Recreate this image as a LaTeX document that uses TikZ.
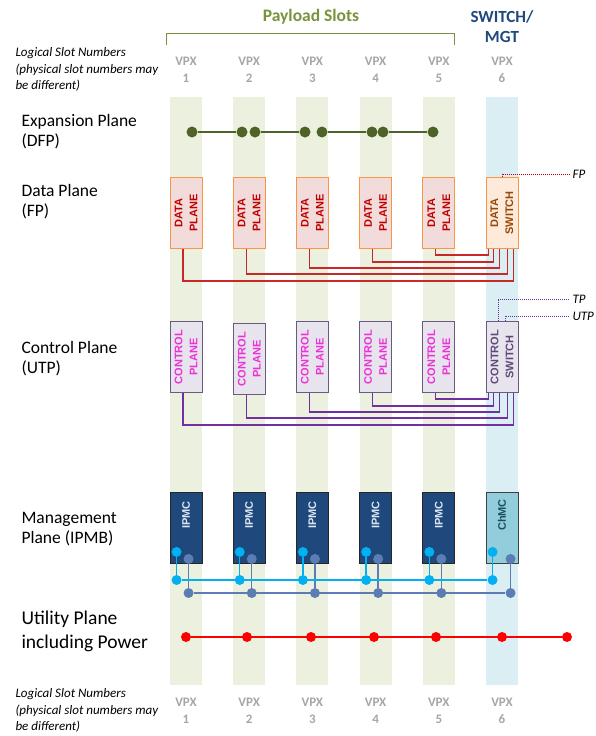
\documentclass[tikz,border=0pt]{standalone}
\usepackage{fontspec}
\setmainfont{Carlito}
\newfontfamily\arialfont{Liberation Sans}
\usetikzlibrary{positioning}

\definecolor{slotgreen}{HTML}{EBF1DE}
\definecolor{slotblue}{HTML}{DAEEF3}
\definecolor{headgreen}{HTML}{77933C}
\definecolor{headblue}{HTML}{1F497D}
\definecolor{vpxgray}{HTML}{A6A6A6}
\definecolor{dfpgreen}{HTML}{4F6228}
\definecolor{dataedge}{HTML}{F79646}
\definecolor{datafill}{HTML}{F2DCDB}
\definecolor{switchfill}{HTML}{FDEADA}
\definecolor{datatext}{HTML}{C00000}
\definecolor{switchtext}{HTML}{984806}
\definecolor{dataline}{RGB}{200,40,40}
\definecolor{ctrlfill}{HTML}{E8E4EE}
\definecolor{ctrledge}{HTML}{6B5A80}
\definecolor{ctrltext}{RGB}{235,50,215}
\definecolor{ctrlswtext}{HTML}{5F497A}
\definecolor{ctrlline}{HTML}{7030A0}
\definecolor{mgmtfill}{HTML}{1F497D}
\definecolor{mgmttext}{HTML}{DCE6F2}
\definecolor{chmcfill}{HTML}{92CDDC}
\definecolor{chmctext}{HTML}{1D4E5C}
\definecolor{ipmba}{HTML}{00B0F0}
\definecolor{ipmbb}{HTML}{5B7DB3}

\begin{document}
\begin{tikzpicture}[x=1pt,y=-1pt,
    strip/.style={fill=#1,minimum width=32pt,minimum height=588pt,inner sep=0pt},
    slotbox/.style={draw=#1,line width=0.9pt,minimum width=32pt,minimum height=71pt,inner sep=0pt},
    boxtext/.style={rotate=90,align=center,text=#1,font=\arialfont\bfseries\fontsize{11}{15}\selectfont},
    vpx/.style={align=center,text=vpxgray,font=\bfseries\fontsize{13}{17}\selectfont},
    plane/.style={anchor=west,align=left,font=\fontsize{17.5}{20}\selectfont},
    note/.style={anchor=north west,align=left,font=\itshape\fontsize{13}{16.5}\selectfont},
    tag/.style={anchor=west,font=\itshape\fontsize{13}{15}\selectfont},
    pin/.style={circle,fill=#1,inner sep=0pt,minimum size=11pt},
    dline/.style={dataline,line width=1.2pt},
    cline/.style={ctrlline,line width=1.2pt}]
  \useasboundingbox (0,0) rectangle (595,736);

  % slot columns
  \foreach \s [evaluate=\s as \cx using 186+63.2*(\s-1)] in {1,...,6}{
    \ifnum\s<6
      \node[strip=slotgreen] (col\s) at (\cx,391) {};
    \else
      \node[strip=slotblue] (col\s) at (\cx,391) {};
    \fi
    \node[vpx] (top\s) at (\cx,70) {VPX\\\s};
    \node[vpx] (bot\s) at (\cx,711) {VPX\\\s};
  }

  % headings
  \node[text=headgreen,font=\bfseries\fontsize{17.5}{20}\selectfont] (payload) at (311,17) {Payload Slots};
  \node[text=headblue,align=center,font=\bfseries\fontsize{17}{20}\selectfont] (mgt) at (502,27) {SWITCH/\\MGT};
  \draw[headgreen,line width=1pt] (166,45) -- (166,33) -- (454,33) -- (454,45);

  \node[note] (lsn) at (12,44) {Logical Slot Numbers\\(physical slot numbers may\\be different)};
  \node[note] (lsnb) at (12,685) {Logical Slot Numbers\\(physical slot numbers may\\be different)};

  \node[plane] (dfp) at (18,132) {Expansion Plane\\(DFP)};
  \node[plane] (fp) at (18,202) {Data Plane\\(FP)};
  \node[plane] (utp) at (18,359) {Control Plane\\(UTP)};
  \node[plane] (ipmb) at (18,529) {Management\\Plane (IPMB)};
  \node[plane,font=\fontsize{19.5}{24}\selectfont] (pwr) at (18,631) {Utility Plane\\including Power};

  % expansion plane
  \foreach \n/\x in {1/192,2/242,3/255,4/305,5/322,6/372,7/383,8/433}
    \node[pin=dfpgreen] (e\n) at (\x,132) {};
  \foreach \a/\b in {1/2,3/4,5/6,7/8}
    \draw[dfpgreen,line width=1.5pt] (e\a) -- (e\b);

  % data and control planes
  \foreach \s/\up [evaluate=\s as \cx using 186+63.2*(\s-1)] in {1/0,2/2,3/0,4/0,5/0}{
    \node[slotbox=dataedge,fill=datafill] (d\s) at (\cx,213) {};
    \node[boxtext=datatext] at (d\s) {DATA\\PLANE};
    \node[slotbox=ctrledge,fill=ctrlfill] (c\s) at (\cx,357+\up) {};
    \node[boxtext=ctrltext] at (c\s) {CONTROL\\PLANE};
    \node[slotbox=black!85,fill=mgmtfill] (m\s) at (\cx,528) {};
    \node[boxtext=mgmttext] at ([yshift=-23pt]m\s.north) {IPMC};
  }
  \node[slotbox=dataedge,fill=switchfill] (d6) at (502,213) {};
  \node[boxtext=switchtext] at (d6) {DATA\\SWITCH};
  \node[slotbox=ctrledge,fill=ctrlfill] (c6) at (502,357) {};
  \node[boxtext=ctrlswtext] at (c6) {CONTROL\\SWITCH};
  \node[slotbox=black!75,fill=chmcfill] (m6) at (502,528) {};
  \node[boxtext=chmctext] at ([yshift=-23pt]m6.north) {ChMC};

  \foreach \s/\dy/\dx in {1/32/28,2/25/22,3/19/14,4/13/8,5/6/3}{
    \draw[dline] ([xshift=-3pt]d\s.south) -- ++(0,\dy) -| ([xshift=\dx pt]d6.south west);
  }
  \foreach \s/\dy/\dx in {1/32/28,2/23/22,3/19/14,4/13/8,5/6/3}{
    \draw[cline] ([xshift=-3pt]c\s.south) -- ++(0,\dy) -| ([xshift=\dx pt]c6.south west);
  }

  \node[tag] (fptag) at (569,174) {FP};
  \node[tag] (tptag) at (569,299) {TP};
  \node[tag] (utptag) at (569,316) {UTP};
  \draw[datatext,densely dotted,line width=1pt] (d6.north) |- (fptag.west);
  \draw[ctrlline,densely dotted,line width=1pt] ([xshift=-4pt]c6.north) |- (tptag.west);
  \draw[ctrlline,densely dotted,line width=1pt] ([xshift=3pt]c6.north) |- (utptag.west);

  % management plane
  \coordinate (busa) at (0,580);
  \coordinate (busb) at (0,593);
  \foreach \s/\ob in {1/19,2/19,3/19,4/19,5/19,6/25}{
    \node[pin=ipmba,minimum size=10pt] (ia\s) at ([shift={(7pt,12pt)}]m\s.south west) {};
    \node[pin=ipmbb,minimum size=10pt] (ib\s) at ([shift={(\ob pt,5pt)}]m\s.south west) {};
    \node[pin=ipmba,minimum size=10pt] (ja\s) at (ia\s |- busa) {};
    \node[pin=ipmbb,minimum size=10pt] (jb\s) at (ib\s |- busb) {};
    \draw[ipmba,line width=1.4pt] (ia\s) -- (ja\s);
    \draw[ipmbb,line width=1.4pt] (ib\s) -- (jb\s);
  }
  \draw[ipmba,line width=1.4pt] (ja1) -- (ja6);
  \draw[ipmbb,line width=1.4pt] (jb1) -- (jb6);

  % utility plane
  \foreach \n/\x in {1/186,2/247,3/311,4/374,5/436,6/502,7/567}
    \node[pin=red,minimum size=10pt] (u\n) at (\x,637) {};
  \draw[red,line width=1.4pt] (u1) -- (u7);
\end{tikzpicture}
\end{document}
